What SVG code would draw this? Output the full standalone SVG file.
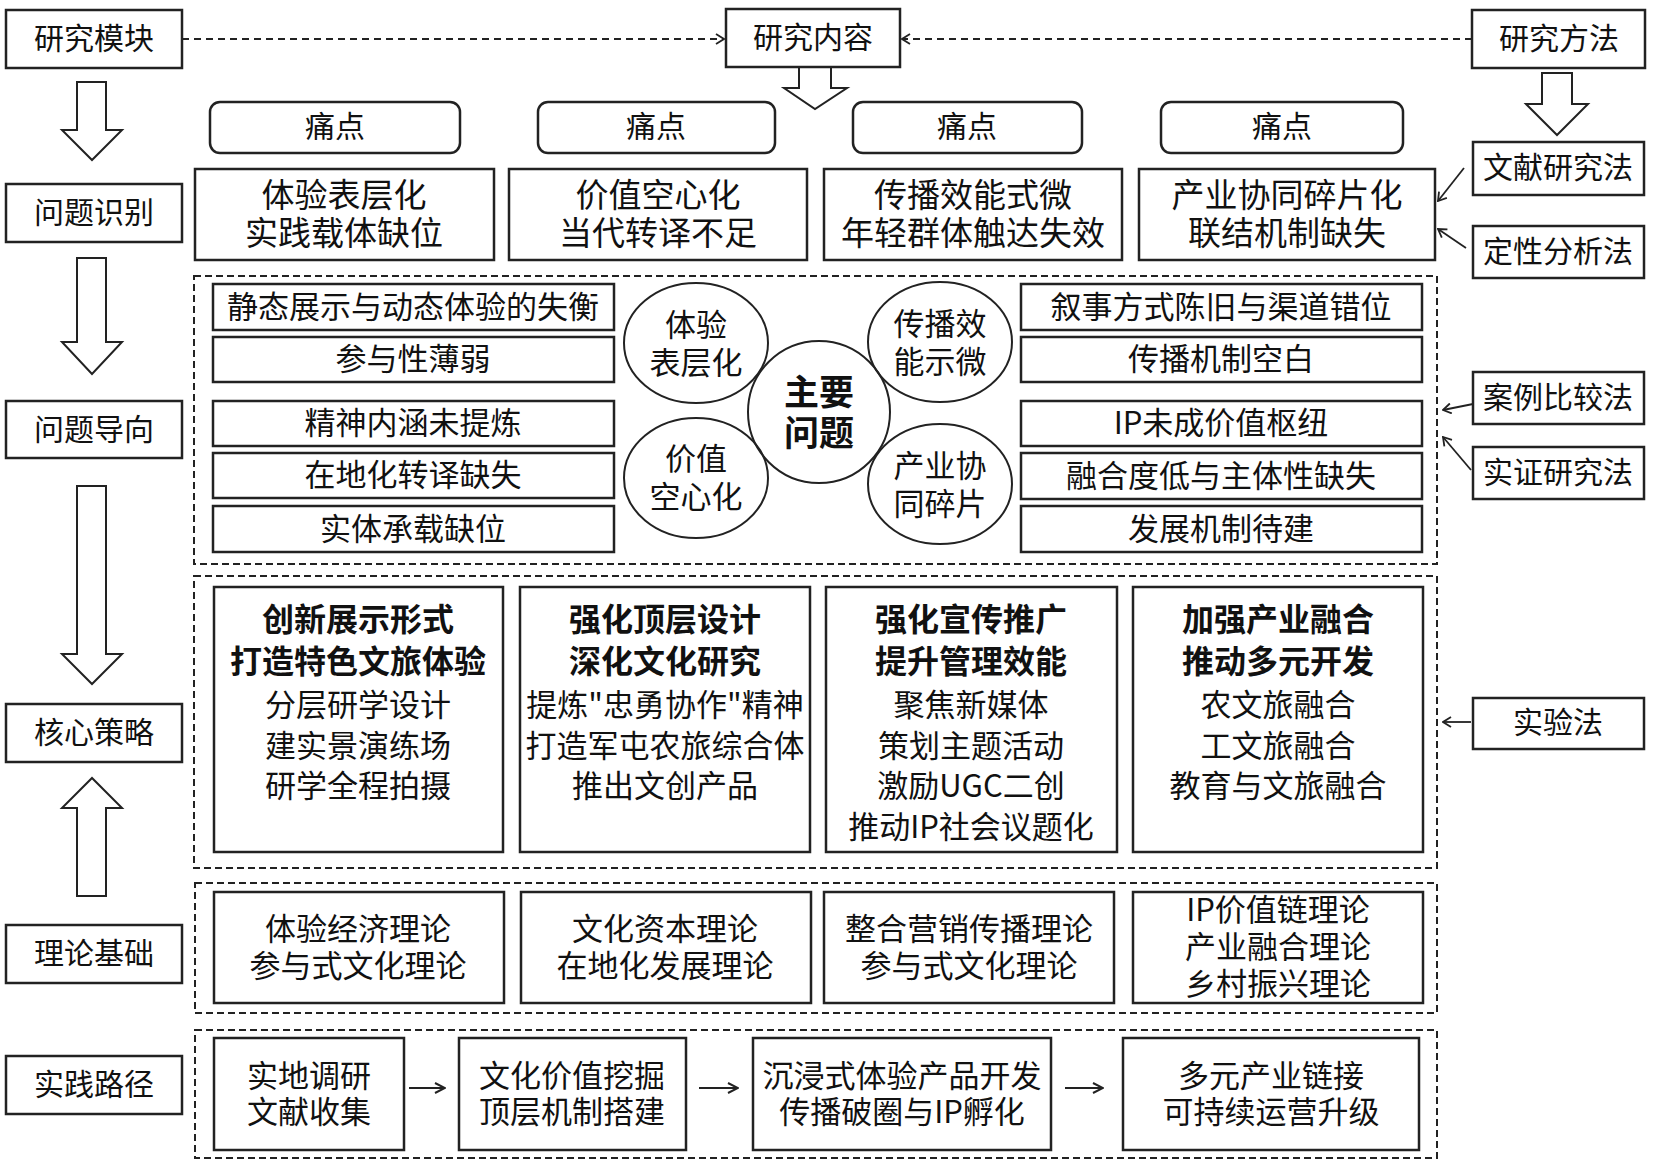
<svg xmlns="http://www.w3.org/2000/svg" width="1654" height="1163" viewBox="0 0 1654 1163">
<style>
.bx{fill:#fff;stroke:#222;stroke-width:2.5}
.rb{fill:#fff;stroke:#222;stroke-width:2.5}
.dg{fill:none;stroke:#222;stroke-width:2;stroke-dasharray:7 4}
.ci{fill:none;stroke:#222;stroke-width:2}
.ba{fill:#fff;stroke:#222;stroke-width:2;stroke-linejoin:miter}
.ln{fill:none;stroke:#222;stroke-width:1.8}
.dl{fill:none;stroke:#222;stroke-width:2;stroke-dasharray:7 5}
text{font-family:"Noto Sans CJK SC","Noto Sans",sans-serif;fill:#111;text-anchor:middle;dominant-baseline:central}
.f30{font-size:30px}
.f31{font-size:31px}
.f33{font-size:33px}
.hb{font-size:32px;font-weight:bold}
.mb{font-size:35px;font-weight:bold}
</style>
<defs>
<marker id="ch" markerWidth="10" markerHeight="12" refX="9" refY="6" orient="auto" markerUnits="userSpaceOnUse">
<path d="M1,1 L9,6 L1,11" fill="none" stroke="#222" stroke-width="1.8"/>
</marker>
<marker id="ah" markerWidth="12" markerHeight="12" refX="11" refY="6" orient="auto" markerUnits="userSpaceOnUse">
<path d="M1,1 L11,6 L1,11" fill="none" stroke="#222" stroke-width="2"/>
</marker>
</defs>
<rect width="1654" height="1163" fill="#fff"/>

<g id="frames">
<rect class="dg" x="194" y="276" width="1243" height="288"/>
<rect class="dg" x="194" y="576" width="1243" height="292"/>
<rect class="dg" x="195" y="883" width="1242" height="130"/>
<rect class="dg" x="195" y="1030" width="1242" height="128"/>
</g>

<g id="connectors">
<line class="dl" x1="182" y1="39" x2="724" y2="39" marker-end="url(#ch)"/>
<line class="dl" x1="1472" y1="39" x2="902" y2="39" marker-end="url(#ch)"/>
<line class="ln" x1="1464" y1="168" x2="1438" y2="201" marker-end="url(#ch)"/>
<line class="ln" x1="1466" y1="248" x2="1438" y2="229" marker-end="url(#ch)"/>
<line class="ln" x1="1473" y1="404" x2="1443" y2="410" marker-end="url(#ch)"/>
<line class="ln" x1="1471" y1="470" x2="1443" y2="437" marker-end="url(#ch)"/>
<line class="ln" x1="1471" y1="722" x2="1443" y2="722" marker-end="url(#ch)"/>
<line class="ln" x1="409" y1="1088" x2="445" y2="1088" stroke-width="2" marker-end="url(#ah)"/>
<line class="ln" x1="699" y1="1088" x2="738" y2="1088" stroke-width="2" marker-end="url(#ah)"/>
<line class="ln" x1="1065" y1="1088" x2="1103" y2="1088" stroke-width="2" marker-end="url(#ah)"/>
<path class="ba" d="M77,82 L106,82 L106,130 L122,130 L92,160 L62,130 L77,130 Z"/>
<path class="ba" d="M77,258 L106,258 L106,342 L122,342 L92,374 L62,342 L77,342 Z"/>
<path class="ba" d="M77,486 L106,486 L106,654 L122,654 L92,684 L62,654 L77,654 Z"/>
<path class="ba" d="M77,896 L106,896 L106,808 L122,808 L92,778 L62,808 L77,808 Z"/>
<path class="ba" d="M799,67 L831,67 L831,88 L847,88 L815,109 L784,88 L799,88 Z"/>
<path class="ba" d="M1542,73 L1572,73 L1572,104 L1588,104 L1557,135 L1526,104 L1542,104 Z"/>
</g>

<g id="m-yjmk"><rect class="bx" x="6" y="10" width="176" height="58"/><text class="f30" x="94" y="36">研究模块</text></g>
<g id="m-wtsb"><rect class="bx" x="6" y="184" width="176" height="58"/><text class="f30" x="94" y="210">问题识别</text></g>
<g id="m-wtdx"><rect class="bx" x="6" y="401" width="176" height="57"/><text class="f30" x="94" y="427">问题导向</text></g>
<g id="m-hxcl"><rect class="bx" x="6" y="704" width="176" height="58"/><text class="f30" x="94" y="730">核心策略</text></g>
<g id="m-lljc"><rect class="bx" x="6" y="925" width="176" height="58"/><text class="f30" x="94" y="951">理论基础</text></g>
<g id="m-sjlj"><rect class="bx" x="6" y="1056" width="176" height="58"/><text class="f30" x="94" y="1082">实践路径</text></g>

<g id="m-yjnr"><rect class="bx" x="726" y="9" width="174" height="58"/><text class="f30" x="813" y="35">研究内容</text></g>
<g id="m-yjff"><rect class="bx" x="1472" y="10" width="173" height="58"/><text class="f30" x="1559" y="36">研究方法</text></g>

<g id="pain1"><rect class="rb" x="210" y="102" width="250" height="51" rx="10"/><text class="f30" x="335" y="124">痛点</text></g>
<g id="pain2"><rect class="rb" x="538" y="102" width="237" height="51" rx="10"/><text class="f30" x="656" y="124">痛点</text></g>
<g id="pain3"><rect class="rb" x="853" y="102" width="229" height="51" rx="10"/><text class="f30" x="967" y="124">痛点</text></g>
<g id="pain4"><rect class="rb" x="1161" y="102" width="242" height="51" rx="10"/><text class="f30" x="1282" y="124">痛点</text></g>

<g id="prob1"><rect class="bx" x="195" y="169" width="299" height="91"/><text class="f33" x="344" y="193">体验表层化</text><text class="f33" x="344" y="231">实践载体缺位</text></g>
<g id="prob2"><rect class="bx" x="509" y="169" width="298" height="91"/><text class="f33" x="658" y="193">价值空心化</text><text class="f33" x="658" y="231">当代转译不足</text></g>
<g id="prob3"><rect class="bx" x="824" y="169" width="298" height="91"/><text class="f33" x="973" y="193">传播效能式微</text><text class="f33" x="973" y="231">年轻群体触达失效</text></g>
<g id="prob4"><rect class="bx" x="1139" y="169" width="296" height="91"/><text class="f33" x="1287" y="193">产业协同碎片化</text><text class="f33" x="1287" y="231">联结机制缺失</text></g>

<g id="meth1"><rect class="bx" x="1473" y="142" width="171" height="53"/><text class="f30" x="1558" y="165">文献研究法</text></g>
<g id="meth2"><rect class="bx" x="1473" y="226" width="171" height="52"/><text class="f30" x="1558" y="249">定性分析法</text></g>
<g id="meth3"><rect class="bx" x="1473" y="372" width="171" height="52"/><text class="f30" x="1558" y="395">案例比较法</text></g>
<g id="meth4"><rect class="bx" x="1473" y="447" width="171" height="52"/><text class="f30" x="1558" y="470">实证研究法</text></g>
<g id="meth5"><rect class="bx" x="1473" y="698" width="171" height="51"/><text class="f30" x="1558" y="720">实验法</text></g>

<g id="li1"><rect class="bx" x="213" y="284" width="401" height="46"/><text class="f31" x="413" y="304">静态展示与动态体验的失衡</text></g>
<g id="li2"><rect class="bx" x="213" y="337" width="401" height="45"/><text class="f31" x="413" y="356">参与性薄弱</text></g>
<g id="li3"><rect class="bx" x="213" y="401" width="401" height="45"/><text class="f31" x="413" y="420">精神内涵未提炼</text></g>
<g id="li4"><rect class="bx" x="213" y="453" width="401" height="45"/><text class="f31" x="413" y="472">在地化转译缺失</text></g>
<g id="li5"><rect class="bx" x="213" y="506" width="401" height="46"/><text class="f31" x="413" y="526">实体承载缺位</text></g>

<g id="ri1"><rect class="bx" x="1021" y="284" width="401" height="46"/><text class="f31" x="1221" y="304">叙事方式陈旧与渠道错位</text></g>
<g id="ri2"><rect class="bx" x="1021" y="337" width="401" height="45"/><text class="f31" x="1221" y="356">传播机制空白</text></g>
<g id="ri3"><rect class="bx" x="1021" y="401" width="401" height="45"/><text class="f31" x="1221" y="420">IP未成价值枢纽</text></g>
<g id="ri4"><rect class="bx" x="1021" y="453" width="401" height="46"/><text class="f31" x="1221" y="473">融合度低与主体性缺失</text></g>
<g id="ri5"><rect class="bx" x="1021" y="506" width="401" height="46"/><text class="f31" x="1221" y="526">发展机制待建</text></g>

<g id="c-main"><circle class="ci" cx="819" cy="412" r="71"/><text class="mb" x="819" y="389">主要</text><text class="mb" x="819" y="430">问题</text></g>
<g id="c1"><ellipse class="ci" cx="696" cy="343" rx="72" ry="60"/><text class="f31" x="696" y="322">体验</text><text class="f31" x="696" y="360">表层化</text></g>
<g id="c2"><ellipse class="ci" cx="696" cy="478" rx="72" ry="60"/><text class="f31" x="696" y="456">价值</text><text class="f31" x="696" y="494">空心化</text></g>
<g id="c3"><ellipse class="ci" cx="940" cy="342" rx="72" ry="60"/><text class="f31" x="940" y="321">传播效</text><text class="f31" x="940" y="359">能示微</text></g>
<g id="c4"><ellipse class="ci" cx="940" cy="484" rx="72" ry="60"/><text class="f31" x="940" y="463">产业协</text><text class="f31" x="940" y="501">同碎片</text></g>

<g id="s1"><rect class="bx" x="214" y="587" width="289" height="265"/>
<text class="hb" x="358" y="617">创新展示形式</text><text class="hb" x="358" y="659">打造特色文旅体验</text>
<text class="f31" x="358" y="702">分层研学设计</text><text class="f31" x="358" y="743">建实景演练场</text><text class="f31" x="358" y="783">研学全程拍摄</text></g>
<g id="s2"><rect class="bx" x="520" y="587" width="290" height="265"/>
<text class="hb" x="665" y="617">强化顶层设计</text><text class="hb" x="665" y="659">深化文化研究</text>
<text class="f31" x="665" y="702">提炼"忠勇协作"精神</text><text class="f31" x="665" y="743">打造军屯农旅综合体</text><text class="f31" x="665" y="783">推出文创产品</text></g>
<g id="s3"><rect class="bx" x="826" y="587" width="291" height="265"/>
<text class="hb" x="971" y="617">强化宣传推广</text><text class="hb" x="971" y="659">提升管理效能</text>
<text class="f31" x="971" y="702">聚焦新媒体</text><text class="f31" x="971" y="743">策划主题活动</text><text class="f31" x="971" y="783">激励UGC二创</text><text class="f31" x="971" y="824">推动IP社会议题化</text></g>
<g id="s4"><rect class="bx" x="1133" y="587" width="290" height="265"/>
<text class="hb" x="1278" y="617">加强产业融合</text><text class="hb" x="1278" y="659">推动多元开发</text>
<text class="f31" x="1278" y="702">农文旅融合</text><text class="f31" x="1278" y="743">工文旅融合</text><text class="f31" x="1278" y="783">教育与文旅融合</text></g>

<g id="t1"><rect class="bx" x="214" y="892" width="290" height="111"/><text class="f31" x="358" y="926">体验经济理论</text><text class="f31" x="358" y="963">参与式文化理论</text></g>
<g id="t2"><rect class="bx" x="521" y="892" width="290" height="111"/><text class="f31" x="665" y="926">文化资本理论</text><text class="f31" x="665" y="963">在地化发展理论</text></g>
<g id="t3"><rect class="bx" x="824" y="892" width="290" height="111"/><text class="f31" x="969" y="926">整合营销传播理论</text><text class="f31" x="969" y="963">参与式文化理论</text></g>
<g id="t4"><rect class="bx" x="1133" y="892" width="290" height="111"/><text class="f31" x="1278" y="907">IP价值链理论</text><text class="f31" x="1278" y="944">产业融合理论</text><text class="f31" x="1278" y="981">乡村振兴理论</text></g>

<g id="p1"><rect class="bx" x="214" y="1038" width="190" height="112"/><text class="f31" x="309" y="1073">实地调研</text><text class="f31" x="309" y="1109">文献收集</text></g>
<g id="p2"><rect class="bx" x="459" y="1038" width="227" height="112"/><text class="f31" x="572" y="1073">文化价值挖掘</text><text class="f31" x="572" y="1109">顶层机制搭建</text></g>
<g id="p3"><rect class="bx" x="753" y="1038" width="298" height="112"/><text class="f31" x="902" y="1073">沉浸式体验产品开发</text><text class="f31" x="902" y="1109">传播破圈与IP孵化</text></g>
<g id="p4"><rect class="bx" x="1123" y="1038" width="296" height="112"/><text class="f31" x="1271" y="1073">多元产业链接</text><text class="f31" x="1271" y="1109">可持续运营升级</text></g>
</svg>
